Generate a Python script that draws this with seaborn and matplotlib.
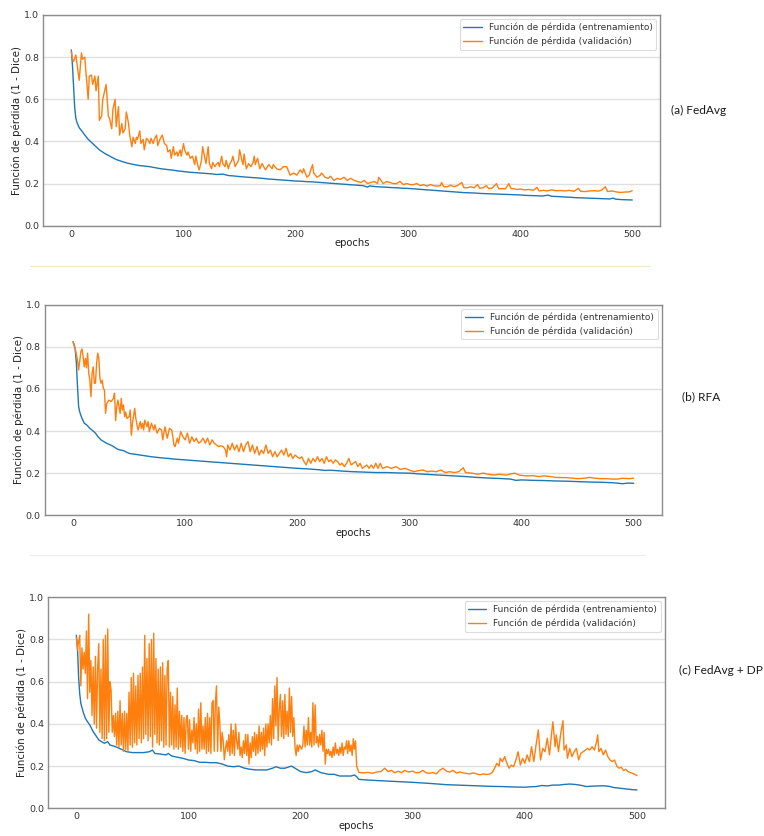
import numpy as np
import pandas as pd
import matplotlib
matplotlib.use("Agg")
import matplotlib.pyplot as plt
from matplotlib.lines import Line2D
import seaborn as sns

# ---------------------------------------------------------------------------
# Loss curves (1 - Dice) per epoch, as (epoch, value) pairs
# ---------------------------------------------------------------------------

# (a) FedAvg
fedavg_train = [
    (0, 0.834), (1, 0.76), (2, 0.66), (3, 0.56), (4, 0.51), (5, 0.49), (7, 0.465),
    (10, 0.445), (12, 0.43), (15, 0.41), (18, 0.395), (20, 0.385), (25, 0.36),
    (30, 0.342), (35, 0.328), (40, 0.314), (45, 0.305), (50, 0.297), (55, 0.291),
    (60, 0.286), (65, 0.283), (70, 0.28), (75, 0.275), (80, 0.27), (85, 0.267),
    (90, 0.264), (95, 0.26), (100, 0.257), (105, 0.254), (110, 0.252), (115, 0.25),
    (120, 0.248), (125, 0.246), (130, 0.243), (135, 0.245), (140, 0.238),
    (145, 0.236), (150, 0.233), (155, 0.231), (160, 0.229), (165, 0.227),
    (170, 0.225), (175, 0.222), (180, 0.22), (185, 0.218), (190, 0.216),
    (195, 0.214), (200, 0.212), (205, 0.211), (210, 0.209), (215, 0.208),
    (220, 0.206), (225, 0.204), (230, 0.202), (235, 0.2), (240, 0.198),
    (245, 0.196), (250, 0.194), (255, 0.192), (260, 0.19), (264, 0.183),
    (266, 0.189), (270, 0.186), (275, 0.184), (280, 0.183), (285, 0.181),
    (290, 0.18), (295, 0.178), (300, 0.177), (305, 0.175), (310, 0.173),
    (315, 0.171), (320, 0.169), (325, 0.167), (330, 0.165), (335, 0.163),
    (340, 0.161), (345, 0.159), (350, 0.157), (355, 0.156), (360, 0.155),
    (365, 0.153), (370, 0.152), (375, 0.151), (380, 0.15), (385, 0.149),
    (390, 0.148), (395, 0.147), (400, 0.146), (405, 0.144), (410, 0.143),
    (415, 0.142), (420, 0.141), (425, 0.145), (428, 0.14), (430, 0.139),
    (435, 0.138), (440, 0.136), (445, 0.135), (450, 0.133), (455, 0.132),
    (460, 0.131), (465, 0.13), (470, 0.129), (475, 0.128), (480, 0.127),
    (483, 0.131), (485, 0.126), (490, 0.124), (495, 0.123), (500, 0.122),
]

fedavg_val = [
    (0, 0.826), (1, 0.79), (2, 0.78), (4, 0.81), (7, 0.69), (9, 0.82), (10, 0.79),
    (12, 0.80), (13, 0.73), (15, 0.60), (16, 0.71), (18, 0.715), (19, 0.67),
    (21, 0.71), (22, 0.64), (24, 0.71), (25, 0.50), (27, 0.52), (28, 0.60),
    (31, 0.67), (33, 0.52), (34, 0.51), (36, 0.46), (37, 0.55), (39, 0.60),
    (40, 0.47), (42, 0.565), (43, 0.43), (45, 0.485), (46, 0.44), (48, 0.46),
    (49, 0.54), (51, 0.485), (52, 0.43), (54, 0.375), (55, 0.42), (57, 0.39),
    (58, 0.42), (59, 0.41), (61, 0.45), (62, 0.39), (64, 0.41), (65, 0.36),
    (67, 0.415), (68, 0.41), (70, 0.39), (71, 0.415), (73, 0.39), (74, 0.41),
    (76, 0.43), (77, 0.38), (79, 0.41), (81, 0.43), (83, 0.39), (85, 0.38),
    (86, 0.35), (88, 0.36), (89, 0.32), (91, 0.375), (92, 0.335), (94, 0.35),
    (95, 0.33), (97, 0.36), (98, 0.33), (100, 0.39), (101, 0.36), (103, 0.335),
    (104, 0.35), (106, 0.32), (108, 0.33), (110, 0.29), (111, 0.33), (113, 0.28),
    (114, 0.265), (116, 0.31), (117, 0.375), (119, 0.32), (120, 0.295),
    (122, 0.375), (123, 0.295), (125, 0.27), (126, 0.30), (128, 0.28),
    (129, 0.29), (131, 0.30), (132, 0.28), (134, 0.33), (135, 0.295),
    (137, 0.28), (138, 0.31), (140, 0.27), (141, 0.29), (143, 0.31),
    (144, 0.33), (146, 0.28), (147, 0.29), (149, 0.31), (150, 0.36),
    (152, 0.31), (153, 0.29), (154, 0.34), (156, 0.27), (158, 0.295),
    (160, 0.28), (162, 0.30), (163, 0.33), (164, 0.29), (166, 0.32),
    (168, 0.27), (170, 0.295), (173, 0.265), (176, 0.29), (179, 0.27),
    (180, 0.29), (183, 0.27), (186, 0.265), (189, 0.28), (192, 0.28),
    (195, 0.24), (198, 0.25), (201, 0.24), (204, 0.265), (206, 0.25),
    (207, 0.27), (210, 0.23), (212, 0.24), (215, 0.29), (216, 0.25),
    (219, 0.23), (222, 0.24), (223, 0.25), (226, 0.23), (229, 0.225),
    (231, 0.235), (234, 0.215), (237, 0.225), (240, 0.22), (243, 0.23),
    (246, 0.215), (249, 0.225), (252, 0.215), (255, 0.21), (258, 0.205),
    (261, 0.215), (264, 0.20), (267, 0.205), (270, 0.21), (273, 0.20),
    (274, 0.23), (276, 0.215), (278, 0.20), (281, 0.21), (284, 0.205),
    (287, 0.20), (290, 0.20), (293, 0.21), (296, 0.195), (299, 0.20),
    (302, 0.195), (305, 0.195), (308, 0.20), (311, 0.19), (314, 0.195),
    (317, 0.188), (320, 0.195), (323, 0.19), (326, 0.188), (329, 0.19),
    (330, 0.205), (332, 0.185), (335, 0.185), (338, 0.192), (341, 0.185),
    (344, 0.19), (348, 0.205), (350, 0.18), (353, 0.18), (356, 0.185),
    (359, 0.18), (362, 0.195), (364, 0.178), (367, 0.18), (370, 0.19),
    (372, 0.176), (375, 0.178), (379, 0.20), (381, 0.175), (384, 0.176),
    (387, 0.175), (390, 0.20), (392, 0.176), (394, 0.176), (397, 0.172),
    (400, 0.174), (404, 0.17), (408, 0.172), (412, 0.168), (415, 0.182),
    (417, 0.165), (421, 0.168), (424, 0.165), (428, 0.17), (432, 0.166),
    (436, 0.167), (440, 0.165), (444, 0.168), (448, 0.163), (452, 0.177),
    (454, 0.163), (458, 0.162), (462, 0.165), (466, 0.166), (470, 0.164),
    (473, 0.17), (476, 0.185), (478, 0.162), (482, 0.165), (486, 0.16),
    (490, 0.158), (494, 0.16), (497, 0.16), (500, 0.166),
]

# (b) RFA
rfa_train = [
    (0, 0.824), (1, 0.81), (2, 0.785), (3, 0.72), (4, 0.61), (5, 0.516),
    (6, 0.49), (8, 0.46), (10, 0.437), (12, 0.43), (15, 0.413), (18, 0.40),
    (20, 0.39), (22, 0.375), (25, 0.358), (28, 0.348), (30, 0.342), (35, 0.33),
    (40, 0.313), (45, 0.307), (50, 0.294), (55, 0.29), (60, 0.286), (65, 0.282),
    (70, 0.278), (75, 0.275), (80, 0.272), (85, 0.27), (90, 0.267), (95, 0.265),
    (100, 0.263), (110, 0.259), (120, 0.255), (130, 0.251), (140, 0.247),
    (150, 0.243), (160, 0.239), (170, 0.235), (180, 0.231), (190, 0.227),
    (200, 0.223), (210, 0.22), (220, 0.216), (225, 0.213), (230, 0.214),
    (240, 0.21), (250, 0.207), (260, 0.205), (270, 0.203), (280, 0.203),
    (290, 0.201), (300, 0.2), (310, 0.196), (320, 0.193), (330, 0.19),
    (340, 0.187), (350, 0.184), (360, 0.18), (370, 0.177), (380, 0.175),
    (390, 0.172), (395, 0.166), (400, 0.168), (410, 0.166), (420, 0.165),
    (430, 0.163), (440, 0.162), (450, 0.16), (460, 0.158), (470, 0.157),
    (480, 0.155), (485, 0.153), (490, 0.15), (495, 0.153), (500, 0.152),
]

rfa_val = [
    (0, 0.824), (2, 0.79), (4, 0.737), (5, 0.69), (7, 0.777), (8, 0.79),
    (9, 0.753), (10, 0.705), (11, 0.745), (12, 0.70), (13, 0.77), (14, 0.674),
    (15, 0.642), (16, 0.563), (17, 0.674), (18, 0.705), (19, 0.627), (20, 0.627),
    (21, 0.72), (22, 0.77), (23, 0.745), (24, 0.65), (25, 0.627), (26, 0.642),
    (27, 0.603), (28, 0.595), (29, 0.484), (30, 0.53), (32, 0.547), (34, 0.54),
    (36, 0.555), (37, 0.58), (38, 0.45), (39, 0.516), (40, 0.547), (42, 0.484),
    (43, 0.555), (44, 0.50), (45, 0.524), (46, 0.468), (47, 0.49), (48, 0.46),
    (50, 0.468), (51, 0.50), (52, 0.38), (53, 0.437), (55, 0.508), (56, 0.46),
    (57, 0.43), (58, 0.405), (60, 0.445), (61, 0.413), (62, 0.437), (63, 0.405),
    (64, 0.452), (66, 0.42), (67, 0.445), (68, 0.397), (70, 0.437), (72, 0.405),
    (73, 0.43), (75, 0.39), (77, 0.413), (79, 0.405), (80, 0.358), (82, 0.42),
    (84, 0.366), (86, 0.413), (88, 0.405), (89, 0.373), (90, 0.334), (91, 0.326),
    (93, 0.366), (94, 0.342), (96, 0.397), (98, 0.373), (100, 0.358),
    (102, 0.39), (104, 0.342), (106, 0.373), (108, 0.35), (110, 0.366),
    (112, 0.342), (114, 0.35), (116, 0.366), (118, 0.342), (120, 0.366),
    (122, 0.334), (124, 0.358), (126, 0.342), (128, 0.334), (130, 0.326),
    (132, 0.33), (134, 0.326), (136, 0.31), (137, 0.278), (138, 0.334),
    (140, 0.31), (142, 0.342), (144, 0.31), (146, 0.334), (148, 0.302),
    (150, 0.342), (152, 0.302), (154, 0.334), (156, 0.35), (158, 0.302),
    (160, 0.334), (162, 0.294), (164, 0.326), (166, 0.286), (168, 0.31),
    (170, 0.294), (172, 0.334), (174, 0.294), (176, 0.31), (178, 0.278),
    (180, 0.302), (182, 0.278), (184, 0.294), (186, 0.31), (188, 0.286),
    (190, 0.318), (192, 0.278), (194, 0.294), (196, 0.27), (198, 0.286),
    (200, 0.278), (202, 0.27), (204, 0.278), (206, 0.255), (208, 0.239),
    (210, 0.27), (212, 0.247), (214, 0.27), (216, 0.255), (218, 0.278),
    (220, 0.255), (222, 0.27), (224, 0.247), (226, 0.278), (228, 0.255),
    (230, 0.263), (232, 0.247), (234, 0.263), (236, 0.255), (238, 0.239),
    (240, 0.247), (242, 0.231), (244, 0.247), (246, 0.27), (248, 0.239),
    (250, 0.247), (252, 0.255), (254, 0.231), (256, 0.247), (258, 0.223),
    (260, 0.231), (262, 0.239), (264, 0.223), (266, 0.239), (268, 0.223),
    (270, 0.247), (272, 0.223), (274, 0.247), (276, 0.223), (280, 0.231),
    (284, 0.223), (288, 0.231), (292, 0.218), (296, 0.223), (300, 0.215),
    (304, 0.207), (308, 0.212), (312, 0.215), (316, 0.207), (320, 0.21),
    (324, 0.207), (328, 0.215), (332, 0.203), (336, 0.207), (340, 0.203),
    (344, 0.207), (348, 0.226), (350, 0.203), (356, 0.2), (360, 0.195),
    (366, 0.2), (370, 0.195), (376, 0.191), (380, 0.195), (386, 0.191),
    (390, 0.196), (394, 0.2), (398, 0.191), (404, 0.187), (410, 0.188),
    (416, 0.184), (420, 0.187), (426, 0.184), (430, 0.18), (436, 0.179),
    (440, 0.179), (446, 0.176), (450, 0.174), (456, 0.176), (460, 0.18),
    (466, 0.176), (470, 0.174), (476, 0.174), (480, 0.172), (486, 0.172),
    (490, 0.176), (496, 0.174), (500, 0.176),
]

# (c) FedAvg + DP
dp_train = [
    (0, 0.82), (1, 0.766), (2, 0.624), (3, 0.545), (4, 0.497), (6, 0.458),
    (8, 0.427), (10, 0.41), (12, 0.395), (15, 0.363), (18, 0.34), (20, 0.324),
    (25, 0.308), (28, 0.316), (30, 0.30), (35, 0.292), (40, 0.28), (45, 0.268),
    (50, 0.264), (55, 0.264), (60, 0.264), (65, 0.268), (68, 0.276), (70, 0.26),
    (75, 0.257), (80, 0.253), (82, 0.26), (85, 0.248), (90, 0.242), (95, 0.237),
    (100, 0.229), (105, 0.226), (110, 0.218), (115, 0.218), (120, 0.216),
    (125, 0.216), (130, 0.21), (135, 0.20), (140, 0.197), (145, 0.20),
    (150, 0.19), (155, 0.185), (160, 0.182), (165, 0.182), (170, 0.182),
    (175, 0.19), (178, 0.197), (182, 0.19), (186, 0.19), (190, 0.197),
    (192, 0.20), (195, 0.19), (200, 0.174), (205, 0.169), (210, 0.174),
    (213, 0.182), (218, 0.169), (225, 0.161), (230, 0.161), (235, 0.153),
    (240, 0.153), (245, 0.153), (248, 0.158), (250, 0.15), (252, 0.137),
    (260, 0.134), (270, 0.131), (285, 0.127), (300, 0.123), (315, 0.118),
    (330, 0.112), (345, 0.109), (360, 0.106), (370, 0.104), (380, 0.103),
    (390, 0.101), (400, 0.10), (405, 0.102), (410, 0.103), (415, 0.108),
    (420, 0.106), (425, 0.11), (430, 0.11), (435, 0.113), (440, 0.115),
    (445, 0.113), (450, 0.109), (455, 0.103), (460, 0.105), (465, 0.106),
    (470, 0.107), (475, 0.104), (480, 0.098), (485, 0.095), (490, 0.092),
    (495, 0.089), (500, 0.087),
]

# epochs 0..250, one value per epoch
dp_val_head = [
    0.81, 0.75, 0.79, 0.82, 0.58, 0.76, 0.66, 0.74, 0.64, 0.84,
    0.52, 0.92, 0.55, 0.70, 0.44, 0.67, 0.40, 0.72, 0.38, 0.66,
    0.78, 0.36, 0.66, 0.33, 0.80, 0.32, 0.82, 0.33, 0.85, 0.36,
    0.60, 0.56, 0.36, 0.44, 0.34, 0.45, 0.30, 0.46, 0.29, 0.51,
    0.30, 0.45, 0.27, 0.46, 0.28, 0.45, 0.27, 0.55, 0.30, 0.62,
    0.29, 0.64, 0.31, 0.58, 0.30, 0.63, 0.33, 0.64, 0.31, 0.67,
    0.33, 0.82, 0.35, 0.71, 0.32, 0.78, 0.34, 0.80, 0.29, 0.83,
    0.35, 0.71, 0.31, 0.66, 0.30, 0.67, 0.32, 0.69, 0.29, 0.63,
    0.30, 0.66, 0.70, 0.29, 0.55, 0.30, 0.53, 0.28, 0.49, 0.29,
    0.57, 0.28, 0.46, 0.29, 0.44, 0.27, 0.43, 0.26, 0.42, 0.44,
    0.28, 0.42, 0.27, 0.37, 0.31, 0.43, 0.28, 0.40, 0.26, 0.47,
    0.27, 0.50, 0.28, 0.39, 0.28, 0.43, 0.26, 0.45, 0.27, 0.43,
    0.26, 0.50, 0.51, 0.27, 0.50, 0.58, 0.27, 0.48, 0.40, 0.27,
    0.36, 0.32, 0.23, 0.28, 0.32, 0.27, 0.35, 0.25, 0.40, 0.26,
    0.37, 0.25, 0.40, 0.32, 0.28, 0.36, 0.25, 0.29, 0.24, 0.32,
    0.26, 0.35, 0.25, 0.35, 0.21, 0.31, 0.24, 0.34, 0.27, 0.36,
    0.25, 0.35, 0.26, 0.39, 0.27, 0.36, 0.28, 0.38, 0.25, 0.40,
    0.29, 0.40, 0.31, 0.44, 0.30, 0.52, 0.33, 0.58, 0.39, 0.62,
    0.32, 0.47, 0.54, 0.34, 0.51, 0.33, 0.54, 0.35, 0.46, 0.34,
    0.57, 0.36, 0.53, 0.34, 0.43, 0.29, 0.25, 0.30, 0.27, 0.30,
    0.29, 0.28, 0.30, 0.39, 0.29, 0.37, 0.30, 0.43, 0.30, 0.36,
    0.29, 0.50, 0.30, 0.49, 0.31, 0.34, 0.29, 0.35, 0.30, 0.37,
    0.27, 0.36, 0.21, 0.28, 0.26, 0.28, 0.25, 0.27, 0.24, 0.29,
    0.25, 0.31, 0.26, 0.28, 0.25, 0.29, 0.26, 0.31, 0.25, 0.29,
    0.28, 0.32, 0.26, 0.32, 0.27, 0.30, 0.25, 0.33, 0.28, 0.32,
    0.20,
]

dp_val_tail = [
    (252, 0.17), (256, 0.168), (260, 0.17), (264, 0.166), (268, 0.172),
    (272, 0.175), (275, 0.19), (278, 0.174), (281, 0.18), (284, 0.168),
    (287, 0.176), (290, 0.169), (293, 0.18), (296, 0.172), (300, 0.176),
    (303, 0.168), (306, 0.17), (309, 0.18), (312, 0.168), (315, 0.166),
    (318, 0.17), (321, 0.163), (324, 0.18), (327, 0.19), (330, 0.176),
    (333, 0.172), (336, 0.18), (339, 0.167), (342, 0.172), (345, 0.168),
    (348, 0.165), (351, 0.163), (354, 0.168), (357, 0.163), (360, 0.159),
    (363, 0.163), (366, 0.16), (369, 0.163), (371, 0.17), (373, 0.19),
    (375, 0.213), (377, 0.20), (378, 0.237), (380, 0.221), (382, 0.245),
    (384, 0.213), (386, 0.19), (388, 0.205), (390, 0.197), (392, 0.229),
    (394, 0.268), (396, 0.205), (398, 0.237), (400, 0.213), (402, 0.253),
    (404, 0.221), (406, 0.292), (408, 0.221), (410, 0.30), (412, 0.371),
    (414, 0.229), (416, 0.284), (418, 0.268), (420, 0.332), (422, 0.253),
    (424, 0.363), (425, 0.41), (427, 0.292), (428, 0.348), (430, 0.268),
    (432, 0.355), (434, 0.415), (435, 0.276), (437, 0.30), (438, 0.237),
    (440, 0.284), (442, 0.245), (444, 0.268), (446, 0.284), (448, 0.229),
    (450, 0.261), (452, 0.268), (454, 0.276), (456, 0.284), (458, 0.276),
    (460, 0.292), (462, 0.276), (464, 0.316), (465, 0.348), (466, 0.268),
    (468, 0.284), (470, 0.253), (472, 0.276), (474, 0.245), (476, 0.229),
    (478, 0.221), (480, 0.229), (482, 0.20), (484, 0.19), (486, 0.195),
    (488, 0.179), (490, 0.185), (492, 0.174), (494, 0.169), (496, 0.166),
    (498, 0.161), (500, 0.155),
]

panel_titles = ["(a) FedAvg", "(b) RFA", "(c) FedAvg + DP"]
series_labels = ["Función de pérdida (entrenamiento)", "Función de pérdida (validación)"]
x_ticks = [0, 100, 200, 300, 400, 500]
y_ticks = [0.0, 0.2, 0.4, 0.6, 0.8, 1.0]


def to_frame(pairs):
    ep, val = zip(*pairs)
    return pd.DataFrame({"epoch": ep, "loss": val})


dp_val_pairs = list(zip(range(len(dp_val_head)), dp_val_head)) + dp_val_tail

panels = [
    (to_frame(fedavg_train), to_frame(fedavg_val)),
    (to_frame(rfa_train), to_frame(rfa_val)),
    (to_frame(dp_train), to_frame(dp_val_pairs)),
]

# ---------------------------------------------------------------------------
# Figure
# ---------------------------------------------------------------------------
sns.set_theme(style="white")
plt.rcParams["font.family"] = ["DejaVu Sans"]

W, H = 764, 836
fig = plt.figure(figsize=(W / 100, H / 100), dpi=100)
fig.patch.set_facecolor("white")

# axes boxes in pixels: left, top, right, bottom
boxes = [
    (43.3, 15.0, 660.3, 225.7),
    (45.0, 304.7, 661.7, 515.3),
    (48.3, 597.3, 665.0, 808.3),
]
title_pos = [(671, 110), (682, 397), (679, 670)]

FS = 6.8
YL_FS = 7.4
LEG_FS = 6.5
blue, orange = "#1f77b4", "#ff7f0e"

for (train_df, val_df), (l, t, r, b), title, (tx, ty) in zip(panels, boxes, panel_titles, title_pos):
    ax = fig.add_axes([l / W, 1 - b / H, (r - l) / W, (b - t) / H])
    sns.lineplot(data=train_df, x="epoch", y="loss", ax=ax, color=blue, lw=1.0,
                 label=series_labels[0], estimator=None, sort=False)
    sns.lineplot(data=val_df, x="epoch", y="loss", ax=ax, color=orange, lw=1.0,
                 label=series_labels[1], estimator=None, sort=False)

    ax.set_xlim(-25, 525)
    ax.set_ylim(0, 1.0)
    ax.set_xticks(x_ticks)
    ax.set_yticks(y_ticks)
    ax.set_yticklabels([f"{v:.1f}" for v in y_ticks])
    ax.yaxis.grid(True, color="#e0e0e0", lw=1.0)
    ax.xaxis.grid(False)
    ax.set_axisbelow(True)
    for s in ax.spines.values():
        s.set_color("#8c8c8c")
        s.set_linewidth(1.0)
    ax.tick_params(axis="both", length=0, pad=3, labelsize=FS, labelcolor="#333333")
    ax.set_xlabel("epochs", fontsize=7.2, color="#222222")
    ax.set_ylabel("Función de pérdida (1 - Dice)", fontsize=YL_FS, color="#222222")
    ax.xaxis.set_label_coords(0.5, -0.058)
    ax.yaxis.set_label_coords(-0.034, 0.5)

    leg = ax.legend(loc="upper right", fontsize=LEG_FS, frameon=True, fancybox=True,
                    framealpha=1.0, borderaxespad=0.45, handlelength=2.0)
    leg.get_frame().set_edgecolor("#dcdcdc")
    leg.get_frame().set_linewidth(0.8)
    for txt in leg.get_texts():
        txt.set_color("#333333")

    fig.text(tx / W, 1 - ty / H, title, family=["Lato", "DejaVu Sans"],
             fontsize=8.6, color="#1a1a1a", ha="left", va="center")

# thin separators between the panels
fig.add_artist(Line2D([30 / W, 650 / W], [1 - 266 / H, 1 - 266 / H],
                      color="#f3e6c8", lw=0.8))
fig.add_artist(Line2D([30 / W, 645 / W], [1 - 555 / H, 1 - 555 / H],
                      color="#ececec", lw=0.8))

fig.savefig("out.png", dpi=100, facecolor="white")
